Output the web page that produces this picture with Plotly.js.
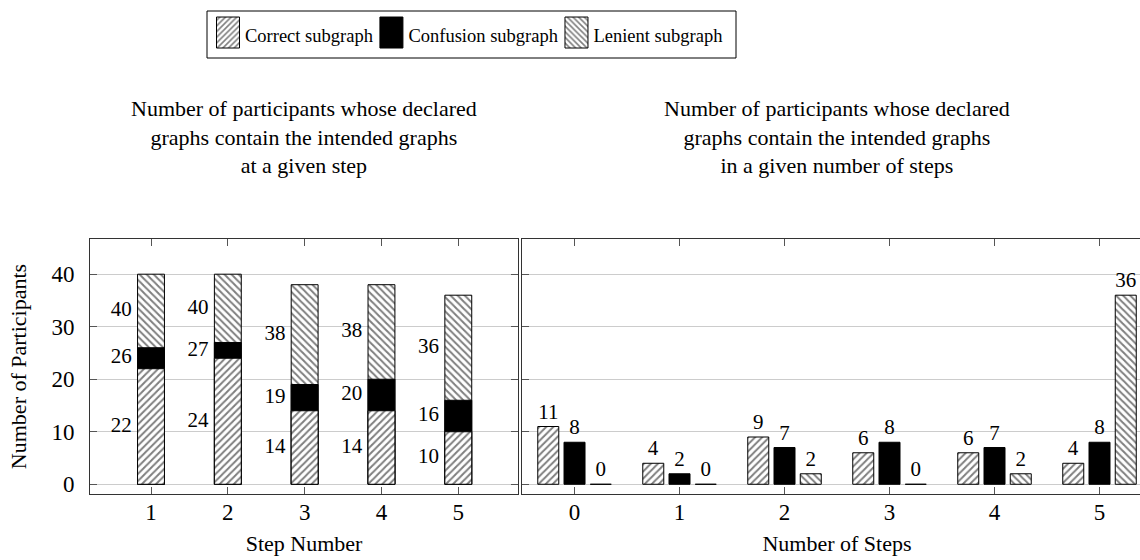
<!DOCTYPE html>
<html>
<head>
<meta charset="utf-8">
<script src="https://cdn.plot.ly/plotly-3.0.1.min.js"></script>
<style>
html, body { margin: 0; padding: 0; overflow: hidden; background: #fff; }
#chart { width: 1160px; height: 560px; }
</style>
</head>
<body>
<div id="chart"></div>
<script>
// ---- data ----
const stepNumbers = [1, 2, 3, 4, 5];
// cumulative counts at a given step (as labelled in the chart)
const correctAtStep = [22, 24, 14, 14, 10];
const confusionAtStep = [26, 27, 19, 20, 16];
const lenientAtStep = [40, 40, 38, 38, 36];

const numberOfSteps = [0, 1, 2, 3, 4, 5];
const correctInSteps = [11, 4, 9, 6, 6, 4];
const confusionInSteps = [8, 2, 7, 8, 7, 8];
const lenientInSteps = [0, 0, 2, 0, 2, 36];

const seriesNames = ['Correct subgraph', 'Confusion subgraph', 'Lenient subgraph'];
const yTicks = [0, 10, 20, 30, 40];

// ---- styles ----
const FONT = '"Liberation Serif", "DejaVu Serif", serif';
const hatchR = { shape: '/', fgcolor: '#000', bgcolor: '#fff', size: 5, solidity: 0.4, fillmode: 'overlay' };
const hatchL = { shape: '\\', fgcolor: '#000', bgcolor: '#fff', size: 5, solidity: 0.4, fillmode: 'overlay' };
const outline = { color: '#000', width: 1 };

const W = 1160, H = 560, ML = 90, MR = 8, MT = 239, MB = 66;
const plotW = W - ML - MR, plotH = H - MT - MB;

const barW = 0.2;
const traces = [];

// right panel (grouped) — also carries the legend
const rightSeries = [
  { y: correctInSteps, marker: { color: '#fff', pattern: hatchR, line: outline }, offset: -0.35 },
  { y: confusionInSteps, marker: { color: '#000', line: outline }, offset: -0.1 },
  { y: lenientInSteps, marker: { color: '#fff', pattern: hatchL, line: outline }, offset: 0.15 }
];
rightSeries.forEach((s, i) => {
  traces.push({
    type: 'bar', x: numberOfSteps, y: s.y, name: seriesNames[i],
    xaxis: 'x2', yaxis: 'y2', width: barW, offset: s.offset,
    marker: s.marker, text: s.y.map(String), textposition: 'outside',
    textfont: { family: FONT, size: 21, color: '#000' }, cliponaxis: false,
    hoverinfo: 'x+y'
  });
});

// left panel (cumulative, overlaid from tallest to shortest)
const leftW = 0.35;
traces.push({ type: 'bar', x: stepNumbers, y: lenientAtStep, width: leftW, showlegend: false,
  marker: { color: '#fff', pattern: hatchL, line: outline }, xaxis: 'x', yaxis: 'y' });
traces.push({ type: 'bar', x: stepNumbers, y: confusionAtStep, width: leftW, showlegend: false,
  marker: { color: '#000', line: outline }, xaxis: 'x', yaxis: 'y' });
traces.push({ type: 'bar', x: stepNumbers, y: correctAtStep, width: leftW, showlegend: false,
  marker: { color: '#fff', pattern: hatchR, line: outline }, xaxis: 'x', yaxis: 'y' });

// left panel labels at segment midpoints, to the left of each bar
const labelX = stepNumbers.map(s => s - 0.25);
const segs = [
  { vals: correctAtStep, mids: correctAtStep.map(v => v / 2) },
  { vals: confusionAtStep, mids: confusionAtStep.map((v, i) => (v + correctAtStep[i]) / 2) },
  { vals: lenientAtStep, mids: lenientAtStep.map((v, i) => (v + confusionAtStep[i]) / 2) }
];
segs.forEach(sg => {
  traces.push({ type: 'scatter', mode: 'text', x: labelX, y: sg.mids, text: sg.vals.map(String),
    textposition: 'middle left', textfont: { family: FONT, size: 21, color: '#000' },
    showlegend: false, hoverinfo: 'skip', xaxis: 'x', yaxis: 'y', cliponaxis: false });
});

const axisCommon = {
  showline: true, linecolor: '#333', linewidth: 1, mirror: 'ticks',
  ticks: 'inside', ticklen: 7, tickcolor: '#555', tickwidth: 1,
  zeroline: false, tickfont: { family: FONT, size: 23, color: '#000' }
};

// legend frame in pixel terms -> paper coords
const pxToPaperX = px => (px - ML) / plotW;
const pxToPaperY = py => (H - MB - py) / plotH;

const layout = {
  width: W, height: H,
  margin: { l: ML, r: MR, t: MT, b: MB },
  paper_bgcolor: '#fff', plot_bgcolor: '#fff',
  barmode: 'overlay',
  font: { family: FONT, color: '#000' },
  showlegend: true,
  legend: {
    orientation: 'h', xref: 'container', yref: 'container',
    x: 205 / W, y: 1 - 35 / H, xanchor: 'left', yanchor: 'middle',
    bgcolor: 'rgba(0,0,0,0)', borderwidth: 0,
    font: { family: FONT, size: 18.5, color: '#000' }, traceorder: 'normal'
  },
  shapes: [
    { type: 'rect', xref: 'paper', yref: 'paper', layer: 'below',
      x0: pxToPaperX(207), x1: pxToPaperX(736), y0: pxToPaperY(58), y1: pxToPaperY(11),
      line: { color: '#000', width: 1 }, fillcolor: '#fff' }
  ],
  xaxis: Object.assign({}, axisCommon, {
    domain: [0, 0.403], range: [0.206, 5.777], tickvals: stepNumbers, showgrid: false,
    anchor: 'y', ticklabelstandoff: -3,
    title: { text: 'Step Number', font: { family: FONT, size: 22 }, standoff: 12 }
  }),
  yaxis: Object.assign({}, axisCommon, {
    range: [-1.85, 46.7], tickvals: yTicks, showgrid: true, gridcolor: '#cccccc', anchor: 'x',
    ticklabelstandoff: 10,
    title: { text: 'Number of Participants', font: { family: FONT, size: 22 }, standoff: 18 }
  }),
  xaxis2: Object.assign({}, axisCommon, {
    domain: [0.4068, 1], range: [-0.5, 5.5], tickvals: numberOfSteps, showgrid: false,
    anchor: 'y2', ticklabelstandoff: -3,
    title: { text: 'Number of Steps', font: { family: FONT, size: 22 }, standoff: 12 }
  }),
  yaxis2: Object.assign({}, axisCommon, {
    range: [-1.85, 46.7], tickvals: yTicks, showgrid: true, gridcolor: '#cccccc',
    anchor: 'x2', showticklabels: false
  }),
  annotations: [
    { text: 'Number of participants whose declared<br>graphs contain the intended graphs<br>at a given step',
      xref: 'x domain', yref: 'paper', x: 0.5, y: 1, xanchor: 'center', yanchor: 'middle', yshift: 102,
      showarrow: false, font: { family: FONT, size: 22, color: '#000' } },
    { text: 'Number of participants whose declared<br>graphs contain the intended graphs<br>in a given number of steps',
      xref: 'x2 domain', yref: 'paper', x: 0.5, y: 1, xanchor: 'center', yanchor: 'middle', yshift: 102,
      showarrow: false, font: { family: FONT, size: 22, color: '#000' } }
  ]
};

Plotly.newPlot('chart', traces, layout, { displayModeBar: false, staticPlot: true }).then(gd => {
  // enlarge legend swatches to match the reference's tall squares
  gd.querySelectorAll('.legendpoints path').forEach(p => {
    p.setAttribute('d', 'M14.5,13.5H-8.5V-17.5H14.5Z');
  });
  // tighten spacing between legend entries (LaTeX-style legend)
  const items = Array.from(gd.querySelectorAll('.legend .traces'));
  const parseT = el => {
    const m = /translate\(\s*([-\d.]+)[ ,]+([-\d.]+)\s*\)/.exec(el.getAttribute('transform') || '');
    return m ? [parseFloat(m[1]), parseFloat(m[2])] : [0, 0];
  };
  if (items.length > 1) {
    let [x0, y0] = parseT(items[0]);
    let cur = x0;
    for (let i = 1; i < items.length; i++) {
      const prevText = items[i - 1].querySelector('text.legendtext');
      const len = prevText ? prevText.getComputedTextLength() : 0;
      cur = cur + 40 + len - 4.5;
      const [, yi] = parseT(items[i]);
      items[i].setAttribute('transform', 'translate(' + cur + ',' + yi + ')');
    }
  }
});
</script>
</body>
</html>
